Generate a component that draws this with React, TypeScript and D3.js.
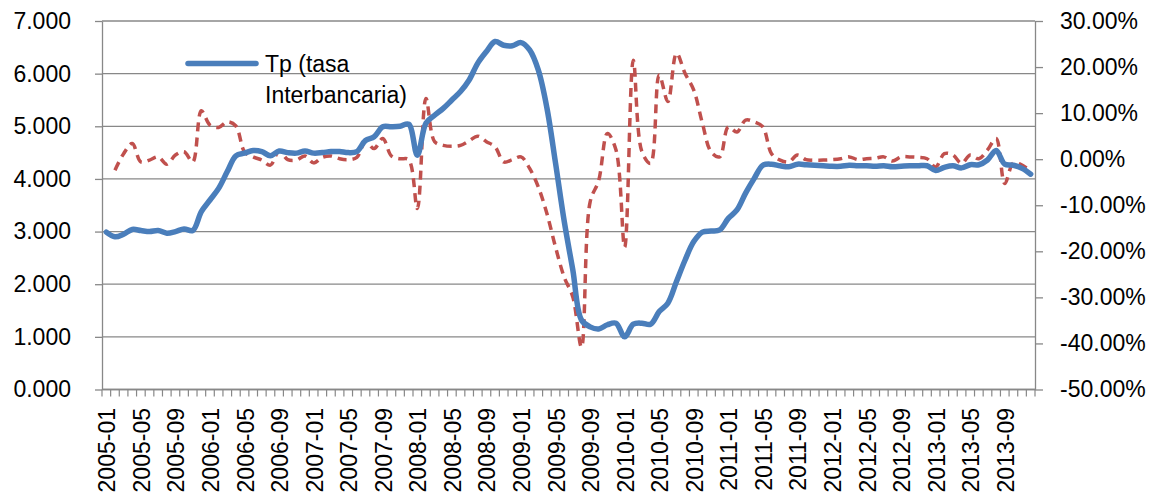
import * as d3 from "d3";
import { useEffect, useRef } from "react";

// monthly categories 2005-01 .. 2013-12
const YEARS = [2005, 2006, 2007, 2008, 2009, 2010, 2011, 2012, 2013];
const MONTHS: string[] = [];
YEARS.forEach((y) => {
  for (let m = 1; m <= 12; m++) MONTHS.push(`${y}-${String(m).padStart(2, "0")}`);
});

// Tp (tasa Interbancaria), left axis
const TP = [
  2.99, 2.9, 2.95, 3.04, 3.02, 3.0, 3.02, 2.97, 3.0, 3.05, 3.02, 3.38,
  3.6, 3.82, 4.14, 4.44, 4.49, 4.54, 4.52, 4.44, 4.53, 4.5, 4.49, 4.53,
  4.49, 4.5, 4.52, 4.52, 4.5, 4.52, 4.73, 4.8, 4.99, 4.99, 5.0, 5.04,
  4.45, 5.06, 5.21, 5.34, 5.5, 5.66, 5.88, 6.2, 6.42, 6.61, 6.54, 6.53,
  6.59, 6.45, 6.07, 5.35, 4.3, 3.2, 2.27, 1.32, 1.19, 1.15, 1.23, 1.26,
  1.0, 1.24, 1.26, 1.24, 1.48, 1.64, 2.05, 2.46, 2.81, 2.99, 3.01, 3.03,
  3.25, 3.41, 3.73, 4.01, 4.26, 4.28, 4.25, 4.23, 4.28, 4.27, 4.26, 4.25,
  4.24, 4.24, 4.26, 4.25, 4.25, 4.24, 4.25, 4.23, 4.24, 4.25, 4.25, 4.25,
  4.16, 4.22, 4.25, 4.21, 4.27, 4.27, 4.36, 4.54, 4.28, 4.26, 4.2, 4.09,
];

// monthly variation (%), right axis
const VARIACION: (number | null)[] = [
  null, -2.4, 1.2, 3.4, -0.6, -0.2, 0.5, -1.1, 0.9, 1.6, -0.6, 10.5,
  7.4, 6.9, 8.1, 7.2, 1.6, 0.5, -0.2, -1.3, 1.8, -0.1, -0.2, 0.7,
  -0.8, 0.4, 0.7, 0.1, -0.1, 0.4, 3.8, 2.3, 4.5, 0.7, 0.1, -0.1,
  -10.7, 13.2, 3.8, 3.0, 2.8, 3.0, 4.0, 5.0, 3.8, 2.7, -0.6, -0.1,
  0.5, -2.0, -6.0, -11.8, -19.1, -25.6, -29.9, -40.8, -9.3, -4.6, 5.6, 2.0,
  -19.1, 21.5, 1.6, -0.9, 18.3, 12.5, 23.0, 18.6, 15.0, 7.8, 1.6, 0.5,
  7.0, 5.9, 8.5, 8.1, 7.0, 1.2, -0.2, -0.6, 0.9, -0.1, -0.2, -0.2,
  -0.1, 0.1, 0.5, -0.1, 0.1, 0.2, 0.5, -0.4, 0.5, 0.5, 0.4, 0.1,
  -1.7, 1.2, 0.9, -0.9, 0.9, 0.1, 2.0, 4.5, -5.3, -0.8, -1.3, -2.6,
];

const LEFT_TICKS = [0, 1, 2, 3, 4, 5, 6, 7];
const RIGHT_TICKS = [-50, -40, -30, -20, -10, 0, 10, 20, 30];
const LEGEND_LINES = ["Tp (tasa", "Interbancaria)"];

const W = 1160;
const H = 497;
const FONT = "'Liberation Sans', Arial, sans-serif";
const GRID = "#888888";
const BLUE = "#4a7ebb";
const RED = "#c0504d";

export default function App() {
  const svgRef = useRef<SVGSVGElement>(null);

  useEffect(() => {
    if (!svgRef.current) return;
    const svg = d3.select(svgRef.current);
    svg.selectAll("*").remove();

    const left = 102;
    const right = 1035;
    const top = 21;
    const bottom = 389.5;

    const x = d3.scaleBand<string>().domain(MONTHS).range([left, right]).padding(0);
    const cx = (m: string) => (x(m) ?? 0) + x.bandwidth() / 2;
    const yL = d3.scaleLinear().domain([0, 7]).range([bottom, top]);
    const yR = d3.scaleLinear().domain([-50, 30]).range([bottom, top]);

    // gridlines
    svg.append("g")
      .selectAll("line")
      .data(LEFT_TICKS)
      .join("line")
      .attr("x1", left)
      .attr("x2", right)
      .attr("y1", (d) => yL(d))
      .attr("y2", (d) => yL(d))
      .attr("stroke", GRID)
      .attr("stroke-width", 1.3);

    // left axis
    const gl = svg.append("g")
      .attr("transform", `translate(${left},0)`)
      .call(d3.axisLeft(yL).tickValues(LEFT_TICKS).tickFormat(d3.format(".3f")).tickSize(7).tickPadding(24).tickSizeOuter(0));
    gl.select(".domain").attr("stroke", GRID).attr("stroke-width", 1.3);
    gl.selectAll(".tick line").attr("stroke", GRID).attr("stroke-width", 1.3);
    gl.selectAll("text").attr("fill", "#000").style("font-size", "23px").style("font-family", FONT);

    // right axis
    const gr = svg.append("g")
      .attr("transform", `translate(${right},0)`)
      .call(d3.axisRight(yR).tickValues(RIGHT_TICKS).tickFormat((d) => `${(+d).toFixed(2)}%`).tickSize(8).tickPadding(17).tickSizeOuter(0));
    gr.select(".domain").attr("stroke", GRID).attr("stroke-width", 1.3);
    gr.selectAll(".tick line").attr("stroke", GRID).attr("stroke-width", 1.3);
    gr.selectAll("text").attr("fill", "#000").style("font-size", "23px").style("font-family", FONT);

    // bottom axis: ticks between categories
    const edges = [...MONTHS.map((m) => x(m) ?? 0), right];
    svg.append("line")
      .attr("x1", left).attr("x2", right)
      .attr("y1", bottom).attr("y2", bottom)
      .attr("stroke", GRID).attr("stroke-width", 1.3);
    svg.append("g")
      .selectAll("line")
      .data(edges)
      .join("line")
      .attr("x1", (d) => d)
      .attr("x2", (d) => d)
      .attr("y1", bottom)
      .attr("y2", bottom + 7)
      .attr("stroke", GRID)
      .attr("stroke-width", 1.2);

    svg.append("g")
      .selectAll("text")
      .data(MONTHS.filter((_, i) => i % 4 === 0))
      .join("text")
      .attr("transform", (d) => `translate(${cx(d) + 1},408) rotate(-90)`)
      .attr("text-anchor", "end")
      .attr("dy", "0.35em")
      .attr("fill", "#000")
      .style("font-size", "23px")
      .style("font-family", FONT)
      .text((d) => d);

    // variation line (dashed, right axis)
    const varLine = d3.line<number | null>()
      .defined((d) => d != null)
      .x((_, i) => cx(MONTHS[i]))
      .y((d) => yR(d as number))
      .curve(d3.curveCatmullRom.alpha(0.5));
    svg.append("path")
      .datum(VARIACION)
      .attr("fill", "none")
      .attr("stroke", RED)
      .attr("stroke-width", 3.5)
      .attr("stroke-dasharray", "9,6")
      .attr("d", varLine);

    // Tp line (left axis)
    const tpLine = d3.line<number>()
      .x((_, i) => cx(MONTHS[i]))
      .y((d) => yL(d))
      .curve(d3.curveCatmullRom.alpha(0.5));
    svg.append("path")
      .datum(TP)
      .attr("fill", "none")
      .attr("stroke", BLUE)
      .attr("stroke-width", 5.5)
      .attr("stroke-linejoin", "round")
      .attr("stroke-linecap", "round")
      .attr("d", tpLine);

    // legend
    const lg = svg.append("g");
    lg.append("line")
      .attr("x1", 188).attr("x2", 256)
      .attr("y1", 63.5).attr("y2", 63.5)
      .attr("stroke", BLUE).attr("stroke-width", 5.5).attr("stroke-linecap", "round");
    lg.selectAll("text")
      .data(LEGEND_LINES)
      .join("text")
      .attr("x", 265)
      .attr("y", (_, i) => 72 + i * 31)
      .attr("fill", "#000")
      .style("font-size", "23px")
      .style("font-family", FONT)
      .text((d) => d);
  }, []);

  return (
    <div style={{ position: "fixed", left: 0, top: 0, width: W, height: H, background: "#fff" }}>
      <svg ref={svgRef} width={W} height={H} style={{ display: "block" }} />
    </div>
  );
}
